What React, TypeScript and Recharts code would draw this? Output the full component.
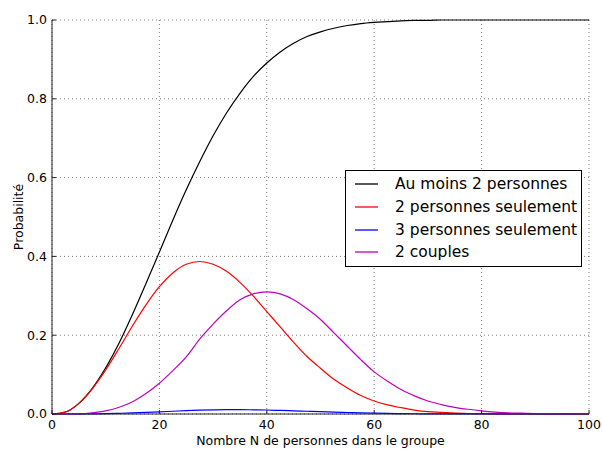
import React from 'react';
import {
  LineChart,
  Line,
  XAxis,
  YAxis,
  CartesianGrid,
  Legend,
} from 'recharts';

// values
const personnes = [
  0, 2.5, 5, 7.5, 10, 12.5, 15, 17.5, 20, 22.5, 25, 27.5, 30, 32.5, 35, 37.5, 40, 42.5, 45, 47.5,
  50, 52.5, 55, 57.5, 60, 62.5, 65, 67.5, 70, 72.5, 75, 77.5, 80, 82.5, 85, 87.5, 90, 92.5, 95, 97.5, 100,
];
const auMoins2 = [
  0, 0.005, 0.027, 0.065, 0.117, 0.18, 0.253, 0.331, 0.411, 0.492, 0.569, 0.64, 0.706, 0.764, 0.814, 0.857, 0.891, 0.919, 0.941, 0.958,
  0.97, 0.979, 0.986, 0.991, 0.994, 0.996, 0.998, 0.999, 0.999, 1, 1, 1, 1, 1, 1, 1, 1, 1, 1, 1, 1,
];
const deuxSeulement = [
  0, 0.005, 0.027, 0.064, 0.112, 0.167, 0.224, 0.277, 0.323, 0.358, 0.38, 0.387, 0.38, 0.362, 0.334, 0.299, 0.26, 0.221, 0.182, 0.146,
  0.116, 0.088, 0.066, 0.047, 0.033, 0.023, 0.016, 0.01, 0.006, 0.004, 0.002, 0.0013, 0.0007, 0.0003, 0.0001, 0, 0, 0, 0, 0, 0,
];
const troisSeulement = [
  0, 0, 0.0001, 0.0004, 0.0008, 0.0017, 0.0027, 0.004, 0.0056, 0.007, 0.0085, 0.0097, 0.0105, 0.011, 0.011, 0.0106, 0.0101, 0.009, 0.008, 0.007,
  0.006, 0.0048, 0.0038, 0.0028, 0.002, 0.0014, 0.001, 0.0006, 0.0004, 0.0002, 0.0001, 0, 0, 0, 0, 0, 0, 0, 0, 0, 0,
];
const deuxCouples = [
  0, 0, 0.0005, 0.003, 0.008, 0.017, 0.031, 0.052, 0.078, 0.11, 0.145, 0.19, 0.228, 0.262, 0.29, 0.305, 0.31, 0.305, 0.29, 0.267,
  0.24, 0.206, 0.172, 0.138, 0.107, 0.083, 0.062, 0.046, 0.033, 0.024, 0.017, 0.012, 0.008, 0.005, 0.003, 0.002, 0.001, 0.0005, 0, 0, 0,
];

const xTicks = [0, 20, 40, 60, 80, 100];
const yTicks = [0, 0.2, 0.4, 0.6, 0.8, 1.0];

const series = [
  { key: 'auMoins2', name: 'Au moins 2 personnes', color: '#000000', values: auMoins2 },
  { key: 'deuxSeulement', name: '2 personnes seulement', color: '#ff0000', values: deuxSeulement },
  { key: 'troisSeulement', name: '3 personnes seulement', color: '#0000ff', values: troisSeulement },
  { key: 'deuxCouples', name: '2 couples', color: '#bf00bf', values: deuxCouples },
];

const data = personnes.map((n, i) => {
  const row: Record<string, number> = { n };
  series.forEach((s) => {
    row[s.key] = s.values[i];
  });
  return row;
});

const FONT = '"DejaVu Sans", sans-serif';
const tickStyle = { fill: '#000', fontSize: 12.5, fontFamily: FONT };
const noLabel = () => <g />;

// legend box drawn from the series list so order and colours stay as in the plot
const renderLegend = () => (
  <div
    style={{
      border: '1px solid #000',
      background: '#fff',
      padding: '2px 0',
      fontFamily: FONT,
      fontSize: 15.5,
      color: '#000',
    }}
  >
    {series.map((s) => (
      <div key={s.key} style={{ display: 'flex', alignItems: 'center', height: 22.7 }}>
        <svg width={23} height={4} style={{ marginLeft: 9, marginRight: 17, display: 'block' }}>
          <line x1={0} y1={2} x2={23} y2={2} stroke={s.color} strokeWidth={1.3} />
        </svg>
        <span style={{ whiteSpace: 'nowrap' }}>{s.name}</span>
      </div>
    ))}
  </div>
);

const yLabel = (props: any) => {
  const vb = props.viewBox;
  const cx = vb.x + 18;
  const cy = vb.y + vb.height / 2;
  return (
    <text
      x={cx}
      y={cy}
      transform={`rotate(-90 ${cx} ${cy})`}
      textAnchor="middle"
      dominantBaseline="central"
      fontFamily={FONT}
      fontSize={12.5}
      fill="#000"
    >
      Probabilité
    </text>
  );
};

export default function App() {
  return (
    <div style={{ position: 'absolute', left: 0, top: 0, background: '#fff' }}>
      <LineChart
        width={602}
        height={449}
        data={data}
        margin={{ top: 20, right: 13, bottom: 0, left: 0 }}
        style={{ fontFamily: FONT }}
      >
        <CartesianGrid stroke="#444" strokeWidth={0.7} strokeDasharray="1 3" />
        <XAxis
          dataKey="n"
          type="number"
          domain={[0, 100]}
          ticks={xTicks}
          height={35}
          stroke="#222"
          tickSize={-4}
          tickMargin={10}
          tick={tickStyle}
          label={{
            value: 'Nombre N de personnes dans le groupe',
            position: 'insideBottom',
            offset: 4,
            style: { fill: '#000', fontSize: 12.5, fontFamily: FONT },
          }}
        />
        <XAxis
          xAxisId="top"
          orientation="top"
          type="number"
          domain={[0, 100]}
          ticks={xTicks}
          height={0}
          stroke="#222"
          tickSize={-4}
          tick={noLabel}
        />
        <YAxis
          type="number"
          domain={[0, 1]}
          ticks={yTicks}
          width={52}
          stroke="#222"
          tickSize={-4}
          tickMargin={9}
          tick={tickStyle}
          tickFormatter={(v: number) => v.toFixed(1)}
          label={{ content: yLabel }}
        />
        <YAxis
          yAxisId="right"
          orientation="right"
          type="number"
          domain={[0, 1]}
          ticks={yTicks}
          width={0}
          stroke="#222"
          tickSize={-4}
          tick={noLabel}
        />
        <Legend
          layout="vertical"
          align="center"
          verticalAlign="middle"
          content={renderLegend}
          wrapperStyle={{ left: 345, top: 170, width: 237, height: 'auto' }}
        />
        {series.map((s) => (
          <Line
            key={s.key}
            type="monotone"
            dataKey={s.key}
            name={s.name}
            stroke={s.color}
            strokeWidth={1.2}
            dot={false}
            activeDot={false}
            isAnimationActive={false}
          />
        ))}
      </LineChart>
    </div>
  );
}
